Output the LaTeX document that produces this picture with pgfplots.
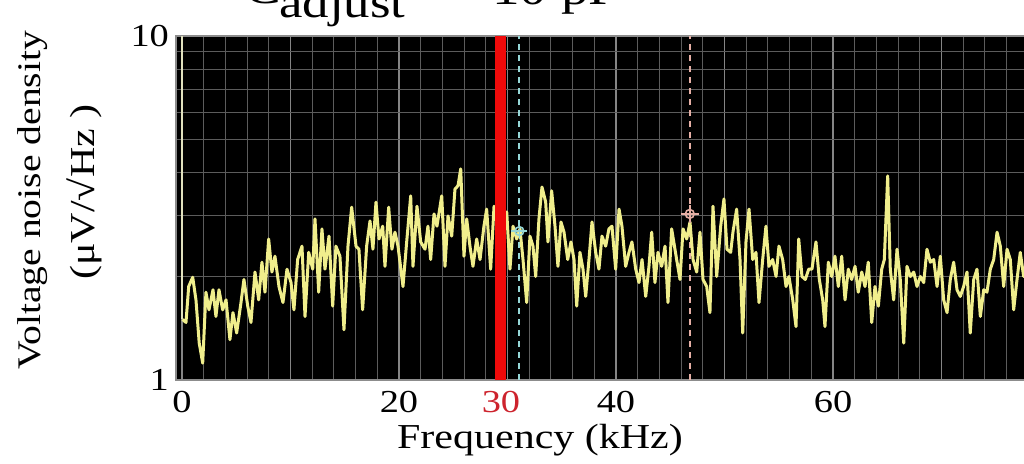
\documentclass[border=0pt]{standalone}
\usepackage{fontspec}
\setmainfont{Liberation Serif}[FakeStretch=1.2]
\usepackage{pgfplots}
\pgfplotsset{compat=1.18}
\definecolor{trace}{RGB}{240,238,140}
\definecolor{paleline}{RGB}{225,225,190}
\definecolor{cursorA}{RGB}{150,215,215}
\definecolor{cursorB}{RGB}{230,175,165}
\definecolor{redline}{RGB}{240,10,10}
\definecolor{redlabel}{RGB}{205,35,45}
\begin{document}
\begin{tikzpicture}
\useasboundingbox (-88pt,-41.5pt) rectangle (424pt,190pt);
\begin{axis}[
  at={(0pt,0pt)}, anchor=south west,
  scale only axis, width=437pt, height=172pt,
  xmin=-0.55, xmax=80, ymin=1, ymax=10, ymode=log,
  axis background/.style={fill=black},
  xtick={0,10,...,80}, xticklabels={0,,20,,40,,60,,},
  minor xtick={2,4,6,8,12,14,16,18,22,24,26,28,32,34,36,38,42,44,46,48,52,54,56,58,62,64,66,68,72,74,76,78},
  ytick={1,10}, yticklabels={1,10},
  minor ytick={2,3,4,5,6,7,8,9},
  grid=both,
  major grid style={draw=black!48, line width=0.7pt},
  minor grid style={draw=black!64, line width=0.5pt},
  major tick length=0pt, minor tick length=0pt,
  axis line style={draw=black!45, line width=0.8pt},
  tick label style={font=\fontsize{16}{18}\selectfont},
  xticklabel style={yshift=-2pt},
]
\addplot[cursorA, line width=1pt, dash pattern=on 3pt off 2.5pt] coordinates {(31.1,1) (31.1,10)};
\addplot[cursorB, line width=1pt, dash pattern=on 3pt off 2.5pt] coordinates {(46.8,1) (46.8,10)};
\addplot[paleline, line width=1.1pt] coordinates {(0.0,10) (0.0,1.50)};
\addplot[trace, line width=1.5pt, line join=round] coordinates {
(0.05,1.50) (0.37,1.47) (0.62,1.87) (0.99,1.99) (1.29,1.71) (1.59,1.28) (1.91,1.12) (2.21,1.80) (2.49,1.60) (2.86,1.83) (3.13,1.53) (3.41,1.83) (3.75,1.60) (4.06,1.71) (4.42,1.31) (4.70,1.57) (5.04,1.37) (5.44,1.68) (5.71,1.96) (6.06,1.64) (6.36,1.47) (6.73,2.06) (7.07,1.71) (7.37,2.20) (7.65,1.80) (7.99,2.57) (8.29,2.06) (8.57,2.29) (8.94,1.87) (9.31,1.68) (9.68,2.10) (10.05,1.92) (10.32,1.60) (10.66,2.24) (11.06,2.45) (11.34,1.53) (11.68,2.35) (12.05,2.10) (12.26,2.94) (12.60,1.80) (12.90,2.75) (13.18,2.10) (13.55,2.62) (13.89,1.64) (14.19,2.45) (14.56,2.29) (14.93,1.40) (15.30,2.45) (15.64,3.18) (16.04,2.45) (16.31,2.40) (16.65,1.60) (17.02,2.45) (17.33,2.90) (17.60,2.40) (17.88,3.29) (18.16,2.57) (18.50,2.80) (18.71,2.14) (19.05,3.18) (19.35,2.40) (19.63,2.69) (19.91,2.45) (20.37,1.87) (20.71,2.52) (21.08,3.43) (21.29,2.14) (21.66,3.20) (22.00,2.52) (22.40,2.40) (22.67,2.80) (22.92,2.24) (23.23,3.04) (23.50,2.80) (23.94,3.43) (24.24,2.14) (24.52,3.00) (24.86,2.62) (25.16,3.59) (25.44,3.67) (25.69,4.11) (25.99,2.29) (26.24,2.94) (26.54,2.45) (26.82,2.14) (27.16,2.57) (27.47,2.24) (27.83,2.80) (28.08,3.14) (28.45,2.10) (28.76,3.20) (29.31,2.57) (29.59,2.75) (29.93,3.08) (30.23,2.10) (30.51,2.80) (30.85,2.57) (31.15,2.75) (31.43,2.24) (31.77,1.68) (32.07,2.62) (32.35,2.45) (32.60,2.00) (32.90,2.94) (33.18,3.64) (33.52,3.29) (33.73,2.52) (34.07,3.55) (34.38,2.80) (34.65,2.14) (34.93,2.88) (35.21,2.69) (35.55,2.24) (35.85,2.52) (36.13,2.24) (36.38,1.64) (36.68,2.35) (36.96,2.10) (37.21,1.75) (37.51,2.24) (37.79,2.88) (38.13,2.35) (38.43,2.10) (38.71,2.62) (39.05,2.45) (39.35,2.75) (39.63,2.80) (39.97,2.10) (40.28,3.14) (40.55,2.80) (40.89,2.14) (41.20,2.35) (41.47,2.52) (41.82,2.10) (42.12,1.92) (42.40,2.24) (42.74,1.75) (43.04,2.14) (43.29,2.69) (43.59,1.92) (43.87,2.35) (44.21,2.14) (44.52,2.45) (44.79,1.68) (45.13,2.75) (45.59,2.24) (45.90,1.96) (46.18,2.75) (46.52,2.57) (46.82,2.88) (47.10,2.24) (47.44,2.06) (47.74,2.69) (48.02,1.96) (48.36,1.87) (48.66,1.57) (48.94,3.20) (49.28,2.00) (49.65,2.80) (49.95,3.36) (50.23,2.40) (50.57,2.35) (50.78,2.69) (51.12,3.14) (51.43,2.24) (51.68,1.37) (51.98,2.52) (52.26,3.14) (52.60,2.24) (52.90,2.35) (53.18,1.68) (53.52,2.24) (53.82,2.80) (54.10,2.14) (54.44,2.24) (54.75,2.00) (55.02,2.45) (55.36,2.24) (55.67,1.87) (55.94,2.00) (56.29,1.71) (56.59,1.43) (56.84,2.57) (57.14,2.00) (57.45,1.96) (57.76,2.10) (58.06,2.10) (58.43,2.52) (58.74,1.96) (59.05,1.71) (59.26,1.43) (59.57,2.20) (59.88,2.00) (60.18,2.29) (60.49,1.87) (60.80,2.29) (61.11,1.71) (61.41,2.10) (61.72,1.96) (62.03,2.14) (62.33,1.80) (62.65,2.06) (62.95,1.87) (63.25,2.20) (63.57,1.47) (63.87,1.87) (64.18,1.64) (64.49,2.10) (64.73,2.24) (65.04,3.92) (65.28,2.10) (65.59,1.71) (65.90,2.40) (66.20,1.96) (66.52,1.28) (66.82,2.14) (67.13,2.00) (67.44,2.06) (67.74,1.87) (68.05,2.00) (68.36,1.92) (68.66,2.40) (68.97,2.20) (69.28,2.24) (69.59,1.87) (69.89,2.29) (70.20,1.71) (70.51,1.57) (70.81,1.96) (71.12,2.20) (71.43,1.83) (71.73,1.75) (72.04,1.87) (72.35,2.06) (72.65,1.37) (72.97,1.96) (73.27,2.10) (73.58,1.53) (73.89,1.83) (74.19,1.80) (74.50,2.10) (74.81,2.24) (75.12,2.69) (75.42,2.45) (75.73,1.87) (76.04,2.40) (76.34,2.24) (76.65,1.60) (76.96,1.96) (77.26,2.35) (77.57,2.00) (77.90,2.20)
};
\addplot[redline, line width=5.5pt] coordinates {(29.4,1) (29.4,10)};
\addplot[only marks, cursorA, mark=o, mark size=2.2pt, line width=0.8pt] coordinates {(31.1,2.71)};
\addplot[only marks, cursorA, mark=+, mark size=4pt, line width=0.8pt] coordinates {(31.1,2.71)};
\addplot[only marks, cursorB, mark=o, mark size=2.2pt, line width=0.8pt] coordinates {(46.8,3.04)};
\addplot[only marks, cursorB, mark=+, mark size=4.5pt, line width=0.8pt] coordinates {(46.8,3.04)};
\coordinate (r30) at (axis cs:29.4,1);
\end{axis}
\node[anchor=north, inner sep=0.333em, yshift=-2pt, text=redlabel, font=\fontsize{16}{18}\selectfont] at (r30) {30};
\node[anchor=base, font=\fontsize{17.5}{20}\selectfont, inner sep=0pt] at (182pt,-34pt) {Frequency (kHz)};
\node[rotate=90, anchor=base, font=\fontsize{16.5}{19}\selectfont, inner sep=0pt] at (-67.5pt,90pt) {Voltage noise density};
\node[rotate=90, anchor=base, font=\fontsize{17.5}{20}\selectfont, inner sep=0pt] at (-40.5pt,94pt) {(μV/√Hz )};
\node[anchor=base west, font=\fontsize{23}{26}\selectfont, inner sep=0pt] at (34pt,188.5pt) {C};
\node[anchor=base west, font=\fontsize{22}{25}\selectfont, inner sep=0pt] at (51.5pt,181.5pt) {adjust};
\node[anchor=base east, font=\fontsize{23}{26}\selectfont, inner sep=0pt] at (222pt,188pt) {= 10 pF};
\end{tikzpicture}
\end{document}
